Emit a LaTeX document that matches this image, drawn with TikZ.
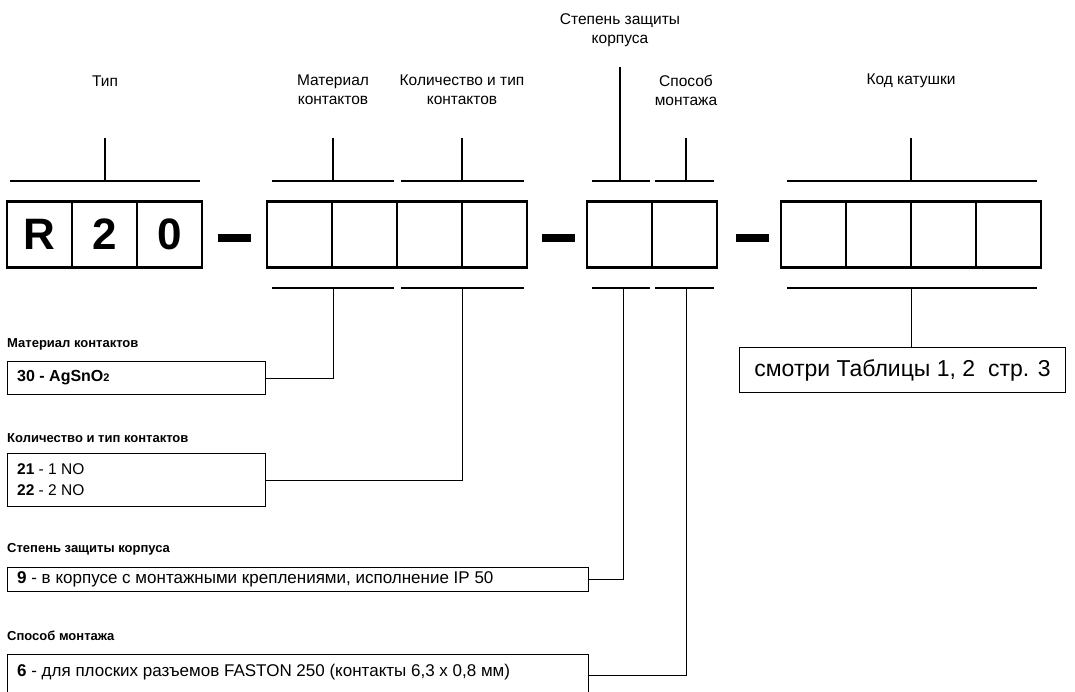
\documentclass[tikz,border=0pt]{standalone}
\usepackage{fontspec}
\setmainfont{Liberation Sans}
\begin{document}
\begin{tikzpicture}[x=1pt,y=-1pt,
 cell/.style={draw,line width=2.8pt,minimum width=65pt,minimum height=66pt,inner sep=0pt,font=\fontsize{44}{44}\selectfont\bfseries},
 bar/.style={fill=black,minimum width=33pt,minimum height=8pt,inner sep=0pt},
 lbl/.style={align=center,font=\fontsize{15.5}{19}\selectfont},
 ttl/.style={anchor=west,inner sep=0pt,font=\fontsize{13}{15}\selectfont\bfseries},
 txt/.style={anchor=west,inner sep=0pt,align=left,font=\fontsize{15.5}{20.5}\selectfont},
 wtxt/.style={anchor=west,inner sep=0pt,align=left,font=\fontsize{17}{20}\selectfont},
 tbox/.style={draw,line width=0.9pt,anchor=north west,inner sep=0pt},
 brk/.style={line width=1.4pt},
 con/.style={line width=0.9pt}]
\useasboundingbox (0,0) rectangle (1075,691);
\clip (0,0) rectangle (1075,691);
% cells
\node[cell] (a1) at (39.5,234.5) {R};
\node[cell] (a2) at (104.5,234.5) {2};
\node[cell] (a3) at (169.5,234.5) {0};
\node[bar] (d1) at (234.5,238) {};
\node[cell] (b1) at (299.5,234.5) {};
\node[cell] (b2) at (364.5,234.5) {};
\node[cell] (b3) at (429.5,234.5) {};
\node[cell] (b4) at (494.5,234.5) {};
\node[bar] (d2) at (558,238) {};
\node[cell] (c1) at (619.5,234.5) {};
\node[cell] (c2) at (684.5,234.5) {};
\node[bar] (d3) at (752,238) {};
\node[cell] (e1) at (813.5,234.5) {};
\node[cell] (e2) at (878.5,234.5) {};
\node[cell] (e3) at (943.5,234.5) {};
\node[cell] (e4) at (1008.5,234.5) {};
% top labels
\node[lbl] (l1) at (105,81) {Тип};
\node[lbl] (l2) at (333,90) {Материал\\контактов};
\node[lbl] (l3) at (462,90) {Количество и тип\\контактов};
\node[lbl] (l4) at (620,30) {Степень защиты\\корпуса};
\node[lbl] (l5) at (686,90) {Способ\\монтажа};
\node[lbl] (l6) at (911,81) {Код катушки};
% top brackets
\draw[brk] (10,181) -- (200,181) (105,181) -- (105,138);
\draw[brk] (272,181) -- (394,181) (333,181) -- (333,138);
\draw[brk] (401,181) -- (524,181) (462,181) -- (462,138);
\draw[brk] (592,181) -- (650,181) (620,181) -- (620,67);
\draw[brk] (655,181) -- (714,181) (686,181) -- (686,138);
\draw[brk] (787,181) -- (1037,181) (911,181) -- (911,138);
% bottom brackets
\draw[brk] (272,288) -- (394,288);
\draw[brk] (401,288) -- (524,288);
\draw[brk] (592,288) -- (650,288);
\draw[brk] (655,288) -- (714,288);
\draw[brk] (787,288) -- (1037,288);
\coordinate (p1) at (333,288);
\coordinate (p2) at (462,288);
\coordinate (p3) at (623,288);
\coordinate (p4) at (686,288);
\coordinate (p5) at (911,288);
% left boxes
\node[ttl] (t1) at (7,344) {Материал контактов};
\node[tbox,minimum width=258pt,minimum height=33pt] (m1) at (7,361) {};
\node[txt,font=\fontsize{16}{20}\selectfont\bfseries] (m1t) at (17,377.5) {30 - AgSnO\raisebox{-0.5pt}{\fontsize{11}{11}\selectfont 2}};
\node[ttl] (t2) at (7,438) {Количество и тип контактов};
\node[tbox,minimum width=258pt,minimum height=53pt] (m2) at (7,453) {};
\node[txt] (m2t) at (17,479.5) {\textbf{21} - 1 NO\\\textbf{22} - 2 NO};
\node[ttl] (t3) at (7,549) {Степень защиты корпуса};
\node[tbox,minimum width=581pt,minimum height=24pt] (m3) at (7,567) {};
\node[wtxt] (m3t) at (17,579) {\textbf{9} - в корпусе с монтажными креплениями, исполнение IP 50};
\node[ttl] (t4) at (7,636) {Способ монтажа};
\node[tbox,minimum width=581pt,minimum height=50pt] (m4) at (7,654) {};
\node[wtxt] (m4t) at (17,672) {\textbf{6} - для плоских разъемов FASTON 250 (контакты 6,3 x 0,8 мм)};
\node[tbox,minimum width=326pt,minimum height=45pt] (k1) at (739,347) {};
\node[font=\fontsize{23}{25}\selectfont] (k1t) at (k1.center) {смотри Таблицы 1, 2\ \ стр. 3};
% connectors
\draw[con] (p1) |- (m1.east);
\draw[con] (p2) |- (m2.east);
\draw[con] (p3) |- (m3.east);
\draw[con] (p4) |- (m4.east |- 0,675);
\draw[con] (p5) -- (k1.north -| p5);
\end{tikzpicture}
\end{document}
